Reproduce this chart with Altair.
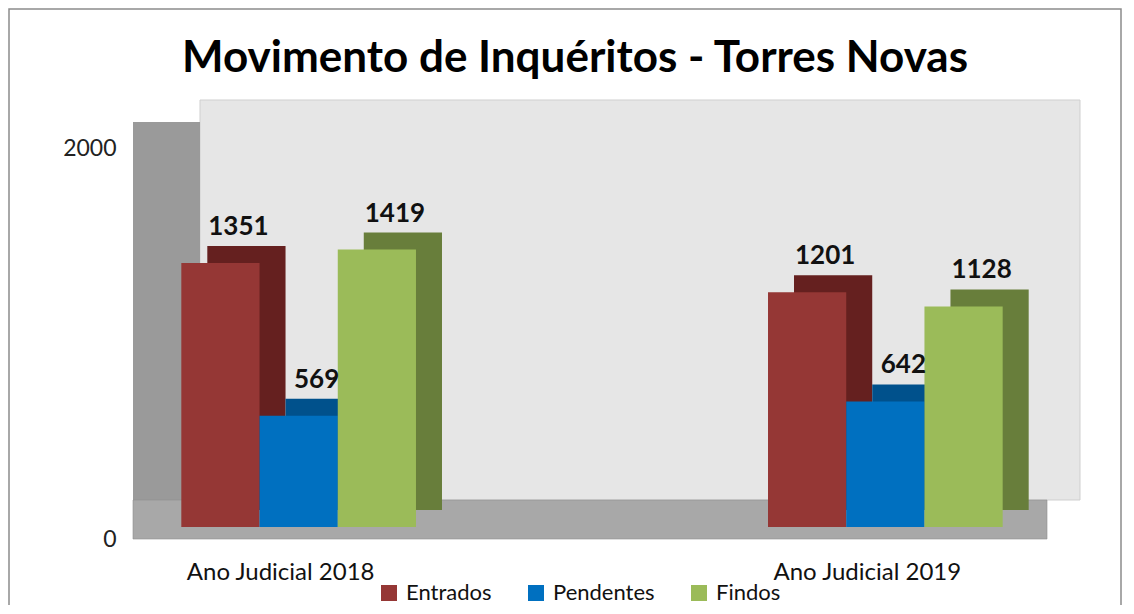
import altair as alt
import pandas as pd

# ---- data ----
groups = ["Ano Judicial 2018", "Ano Judicial 2019"]
series = ["Entrados", "Pendentes", "Findos"]
values_2018 = [1351, 569, 1419]
values_2019 = [1201, 642, 1128]
front_colors = ["#953735", "#0070c0", "#9bbb59"]
side_colors = ["#65201f", "#00518c", "#687e3b"]

rows = []
for g, vals in zip(groups, [values_2018, values_2019]):
    for s, v in zip(series, vals):
        rows.append({"grupo": g, "serie": s, "valor": v})
df = pd.DataFrame(rows)

W, H = 900, 391
P_IN, P_OUT = 0.6, 0.067
step = W / (2 - P_IN + 2 * P_OUT)
band = step * (1 - P_IN)
DX, DY = 26, -17
FONT = "Lato"

one = pd.DataFrame({"d": [0]})


def deco(x, x2, y, y2, **kw):
    return alt.Chart(one).mark_rect(**kw).encode(
        x=alt.value(x), x2=alt.value(x2), y=alt.value(y), y2=alt.value(y2)
    )


border = deco(-133, 979, -127, 490, fillOpacity=0, stroke="#8c8c8c", strokeWidth=1.5)
back_wall = deco(58, 938, -36, 364, fill="#e6e6e6", stroke="#cfcfcf")
left_wall = deco(-9, 58, -14, 386, fill="#9a9a9a")
floor = deco(-9, 905, 364, 403, fill="#a8a8a8", stroke="#8f8f8f", strokeWidth=0.6)

x_enc = alt.X(
    "grupo:N",
    sort=groups,
    scale=alt.Scale(paddingInner=P_IN, paddingOuter=P_OUT),
    axis=alt.Axis(
        title=None, domain=False, ticks=False, labelAngle=0,
        labelPadding=33, labelOffset=-18, labelFontSize=24, labelLimit=400,
        labelFont=FONT, labelColor="#111",
    ),
)
y_enc = alt.Y(
    "valor:Q",
    scale=alt.Scale(domain=[0, 2000]),
    axis=alt.Axis(
        title=None, values=[0, 2000], format="d", grid=False, domain=False,
        ticks=False, labelPadding=26, labelOffset=12, labelFontSize=23,
        labelFont=FONT, labelColor="#222",
    ),
)

back = alt.Chart(df).mark_bar(yOffset=DY, y2Offset=DY).encode(
    x=x_enc,
    xOffset=alt.XOffset("serie:N", sort=series, scale=alt.Scale(range=[DX, DX + band])),
    y=y_enc,
    color=alt.Color("serie:N", scale=alt.Scale(domain=series, range=side_colors), legend=None),
)

front = alt.Chart(df).mark_bar().encode(
    x=x_enc,
    xOffset=alt.XOffset("serie:N", sort=series, scale=alt.Scale(range=[0, band])),
    y=y_enc,
    color=alt.Color(
        "serie:N",
        sort=series,
        scale=alt.Scale(domain=series, range=front_colors),
        legend=alt.Legend(
            title=None, orient="none", legendX=236, legendY=446,
            direction="horizontal", symbolType="square", symbolSize=256,
            symbolStrokeWidth=0, labelFontSize=22, labelFont=FONT,
            labelColor="#111", labelOffset=6, columnPadding=33, padding=0,
        ),
    ),
)

labels = alt.Chart(df).mark_text(
    dx=18, dy=-28, baseline="alphabetic", fontSize=26, fontWeight="bold",
    font=FONT, color="#111",
).encode(
    x=x_enc,
    xOffset=alt.XOffset("serie:N", sort=series, scale=alt.Scale(range=[0, band])),
    y=y_enc,
    text="valor:Q",
)

chart = alt.layer(border, back_wall, left_wall, floor, back, front, labels).resolve_scale(
    xOffset="independent", color="independent"
).properties(
    width=W,
    height=H,
    autosize=alt.AutoSizeParams(type="none"),
    padding={"left": 134, "top": 128, "right": 84, "bottom": 78},
    title=alt.TitleParams(
        "Movimento de Inquéritos - Torres Novas",
        fontSize=44, font=FONT, fontWeight="bold", color="#000",
        baseline="alphabetic", dx=-17, offset=-108,
    ),
).configure_view(stroke=None)

chart.save("out.html", embed_options={"renderer": "svg", "actions": False})
